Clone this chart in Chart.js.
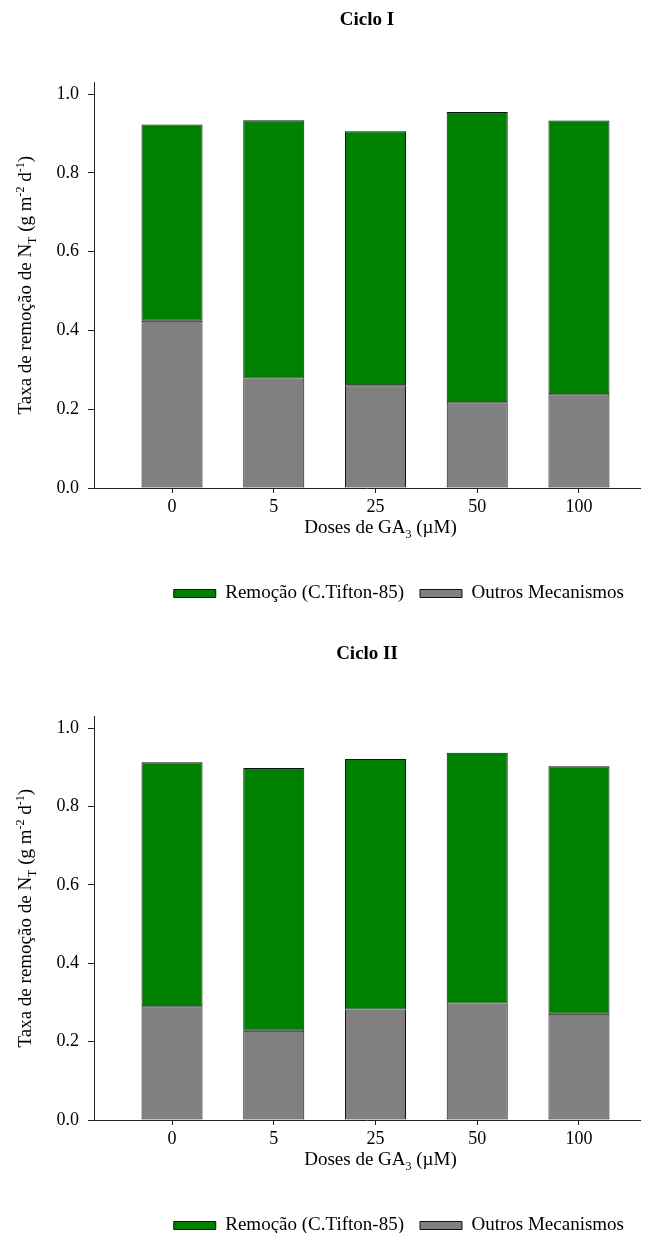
<!DOCTYPE html>
<html>
<head>
<meta charset="utf-8">
<script src="https://cdn.jsdelivr.net/npm/chart.js@4"></script>
<style>
  html, body { margin: 0; padding: 0; background: #fff; overflow: hidden; }
  .box { position: absolute; left: 0; width: 645px; }
</style>
</head>
<body>
<div class="box" style="top:0;height:613px"><canvas id="ciclo1"></canvas></div>
<div class="box" style="top:634px;height:611px"><canvas id="ciclo2"></canvas></div>
<script>
const doses = ['0', '5', '25', '50', '100'];
const seriesNames = ['Remoção (C.Tifton-85)', 'Outros Mecanismos'];
const yTicks = [0, 0.2, 0.4, 0.6, 0.8, 1.0];

// Ciclo I
const remocao1 = [0.498, 0.656, 0.645, 0.737, 0.695];
const outros1 = [0.425, 0.278, 0.261, 0.218, 0.238];

// Ciclo II
const remocao2 = [0.623, 0.670, 0.639, 0.640, 0.632];
const outros2 = [0.290, 0.228, 0.282, 0.297, 0.271];

const serif = "'Liberation Serif', 'Times New Roman', serif";
Chart.defaults.font.family = serif;
Chart.defaults.color = '#000';

const yTitle = [
  { t: 'Taxa de remoção de N' }, { t: 'T', s: 'sub' }, { t: ' (g m' },
  { t: '-2', s: 'sup' }, { t: ' d' }, { t: '-1', s: 'sup' }, { t: ')' }
];
const xTitle = [{ t: 'Doses de GA' }, { t: '3', s: 'sub' }, { t: ' (\u00b5M)' }];

function fontFor(r, size) {
  return (r.s ? Math.round(size * 0.62) : size) + 'px ' + serif;
}

// draws a line of text with sub/superscripts, centred on x
function drawRich(ctx, runs, x, y, size) {
  let w = 0;
  runs.forEach(r => { ctx.font = fontFor(r, size); w += ctx.measureText(r.t).width; });
  let cx = x - w / 2;
  ctx.textAlign = 'left';
  ctx.textBaseline = 'alphabetic';
  ctx.fillStyle = '#000';
  runs.forEach(r => {
    ctx.font = fontFor(r, size);
    const dy = r.s === 'sub' ? size * 0.28 : r.s === 'sup' ? -size * 0.38 : 0;
    ctx.fillText(r.t, cx, y + dy);
    cx += ctx.measureText(r.t).width;
  });
}

const axisTitles = {
  id: 'axisTitles',
  afterDraw(chart) {
    const ctx = chart.ctx;
    const a = chart.chartArea;
    ctx.save();
    drawRich(ctx, xTitle, chart.scales.x.getPixelForValue(2) + 5, a.bottom + 45, 19);
    ctx.translate(31, (a.top + a.bottom) / 2);
    ctx.rotate(-Math.PI / 2);
    drawRich(ctx, yTitle, 0, 0, 19);
    ctx.restore();
  }
};

function makeChart(id, title, remocao, outros) {
  const ctx = document.getElementById(id).getContext('2d');
  return new Chart(ctx, {
    type: 'bar',
    data: {
      datasets: [{
        label: seriesNames[1],
        data: outros.map((v, i) => ({ x: i, y: v })),
        backgroundColor: '#808080',
        borderColor: '#111',
        borderWidth: 1,
        borderSkipped: false,
        barPercentage: 0.6,
        categoryPercentage: 1
      }, {
        label: seriesNames[0],
        data: remocao.map((v, i) => ({ x: i, y: v })),
        backgroundColor: '#008000',
        borderColor: '#111',
        borderWidth: 1,
        borderSkipped: false,
        barPercentage: 0.6,
        categoryPercentage: 1
      }]
    },
    options: {
      responsive: true,
      maintainAspectRatio: false,
      animation: false,
      layout: { padding: { left: 0, right: 5, top: 0, bottom: 0 } },
      plugins: {
        title: {
          display: true,
          text: title,
          fullSize: false,
          color: '#000',
          font: { size: 19, weight: 'bold' },
          padding: { top: 8.6, bottom: 51 }
        },
        legend: {
          position: 'bottom',
          align: 'end',
          reverse: true,
          labels: { boxWidth: 42, boxHeight: 8, padding: 16, color: '#000', font: { size: 19 } }
        },
        tooltip: { enabled: false }
      },
      scales: {
        x: {
          type: 'linear',
          stacked: true,
          offset: false,
          min: -0.767,
          max: 4.6,
          afterBuildTicks: s => { s.ticks = doses.map((d, i) => ({ value: i })); },
          afterFit: s => { s.height = 80; },
          ticks: { callback: v => doses[v], font: { size: 18 }, color: '#000', padding: 3, maxRotation: 0 },
          grid: { drawOnChartArea: false, offset: false, tickLength: 5, color: '#222' },
          border: { display: true, color: '#222', width: 1 }
        },
        y: {
          stacked: true,
          min: 0,
          max: 1.03,
          afterBuildTicks: s => { s.ticks = yTicks.map(v => ({ value: v })); },
          afterFit: s => { s.width = 94; },
          ticks: { callback: v => v.toFixed(1), font: { size: 18 }, color: '#000', padding: 9 },
          grid: { drawOnChartArea: false, tickLength: 6, color: '#222' },
          border: { display: true, color: '#222', width: 1 }
        }
      }
    },
    plugins: [axisTitles]
  });
}

makeChart('ciclo1', 'Ciclo I', remocao1, outros1);
makeChart('ciclo2', 'Ciclo II', remocao2, outros2);
</script>
</body>
</html>
